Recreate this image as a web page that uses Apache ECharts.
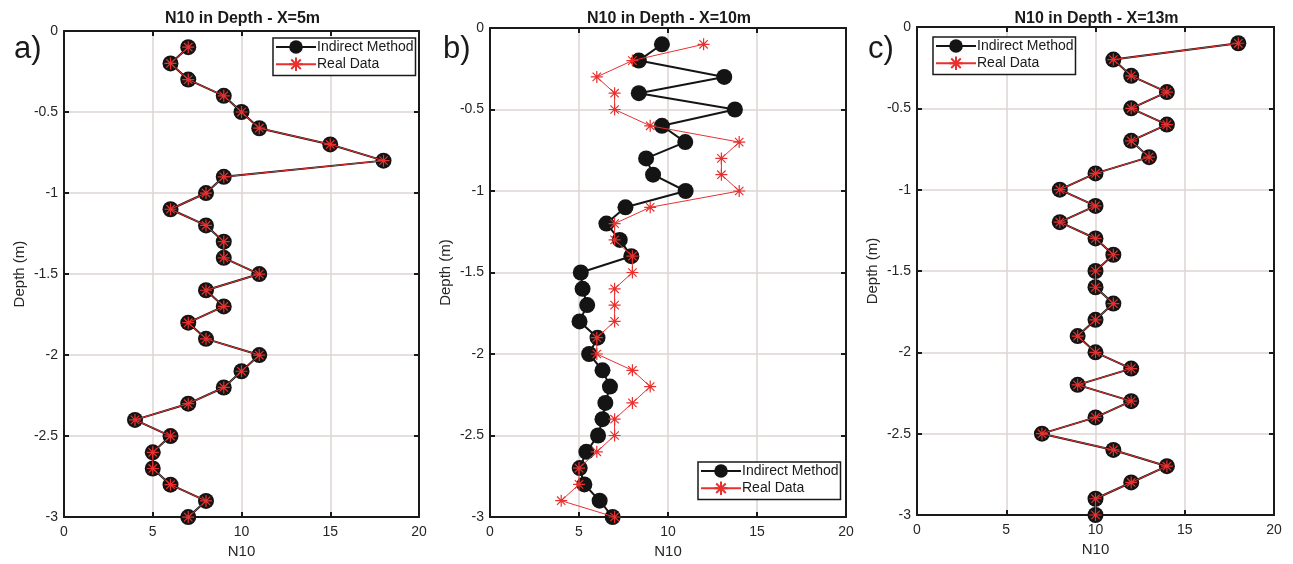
<!DOCTYPE html>
<html>
<head>
<meta charset="utf-8">
<script src="https://cdn.jsdelivr.net/npm/echarts@6/dist/echarts.min.js"></script>
<style>
  html, body { margin: 0; padding: 0; background: #fff; }
  #chart { width: 1293px; height: 564px; }
</style>
</head>
<body>
<div id="chart"></div>
<script>
// Depth of each reading (m)
const depths = [-0.1, -0.2, -0.3, -0.4, -0.5, -0.6, -0.7, -0.8, -0.9, -1.0,
                -1.1, -1.2, -1.3, -1.4, -1.5, -1.6, -1.7, -1.8, -1.9, -2.0,
                -2.1, -2.2, -2.3, -2.4, -2.5, -2.6, -2.7, -2.8, -2.9, -3.0];

// X = 5 m
const indirectX5 = [7, 6, 7, 9, 10, 11, 15, 18, 9, 8,
                    6, 8, 9, 9, 11, 8, 9, 7, 8, 11,
                    10, 9, 7, 4, 6, 5, 5, 6, 8, 7];
const realX5     = [7, 6, 7, 9, 10, 11, 15, 18, 9, 8,
                    6, 8, 9, 9, 11, 8, 9, 7, 8, 11,
                    10, 9, 7, 4, 6, 5, 5, 6, 8, 7];

// X = 10 m
const indirectX10 = [9.66, 8.36, 13.16, 8.36, 13.76, 9.66, 10.97, 8.77, 9.16, 10.99,
                     7.61, 6.54, 7.29, 7.94, 5.10, 5.20, 5.46, 5.03, 6.04, 5.57,
                     6.32, 6.74, 6.48, 6.32, 6.07, 5.41, 5.04, 5.30, 6.16, 6.89];
const realX10     = [12, 8, 6, 7, 7, 9, 14, 13, 13, 14,
                     9, 7, 7, 8, 8, 7, 7, 7, 6, 6,
                     8, 9, 8, 7, 7, 6, 5, 5, 4, 7];

// X = 13 m
const indirectX13 = [18, 11, 12, 14, 12, 14, 12, 13, 10, 8,
                     10, 8, 10, 11, 10, 10, 11, 10, 9, 10,
                     12, 9, 12, 10, 7, 11, 14, 12, 10, 10];
const realX13     = [18, 11, 12, 14, 12, 14, 12, 13, 10, 8,
                     10, 8, 10, 11, 10, 10, 11, 10, 9, 10,
                     12, 9, 12, 10, 7, 11, 14, 12, 10, 10];

const panelTitles = ['N10 in Depth - X=5m', 'N10 in Depth - X=10m', 'N10 in Depth - X=13m'];
const panelLetters = ['a)', 'b)', 'c)'];
const seriesNames = ['Indirect Method', 'Real Data'];
const xTicks = [0, 5, 10, 15, 20];
const yTicks = [0, -0.5, -1, -1.5, -2, -2.5, -3];

const panels = [
  { indirect: indirectX5,  real: realX5 },
  { indirect: indirectX10, real: realX10 },
  { indirect: indirectX13, real: realX13 }
];

// plot boxes, letter offsets and legend placement for each panel
const boxes = [
  { left: 64,  top: 31, width: 355, height: 487, letterLeft: 9,   legend: { left: 273, top: 38 } },
  { left: 490, top: 28, width: 356, height: 489, letterLeft: 438, legend: { left: 698, top: 462 } },
  { left: 917, top: 27, width: 357, height: 488, letterLeft: 863, legend: { left: 933, top: 37 } }
];

const FONT = 'Liberation Sans, Arial, Helvetica, sans-serif';
const RED = '#e8312f';
const INK = '#141414';
const ASTERISK = 'path://M0,-10L0,10M-10,0L10,0M-7,-7L7,7M-7,7L7,-7';

const pairs = (xs) => xs.map((v, i) => [v, depths[i]]);

const grids = [], xAxes = [], yAxes = [], series = [], titles = [], legends = [];

boxes.forEach((b, p) => {
  grids.push({ left: b.left, top: b.top, width: b.width, height: b.height, containLabel: false });

  const gridLine = { show: true, lineStyle: { color: '#ddd6d3', width: 1.5 } };
  const axisLine = { show: true, onZero: false, lineStyle: { color: '#1a1a1a', width: 2 } };
  const tick = { show: true, inside: true, length: 5, lineStyle: { color: '#1a1a1a', width: 2 } };
  const label = { fontFamily: FONT, fontSize: 14, color: '#262626' };

  // bottom (labelled) and top (ticks only) x axes
  xAxes.push({
    gridIndex: p, type: 'value', min: xTicks[0], max: xTicks[xTicks.length - 1], interval: 5,
    position: 'bottom', name: 'N10', nameLocation: 'middle', nameGap: 26,
    nameTextStyle: { fontFamily: FONT, fontSize: 15, color: '#262626' },
    axisLine, axisTick: tick, splitLine: gridLine,
    axisLabel: Object.assign({ margin: 8 }, label)
  });
  xAxes.push({
    gridIndex: p, type: 'value', min: 0, max: 20, interval: 5, position: 'top',
    axisLine, axisTick: tick, splitLine: { show: false }, axisLabel: { show: false }
  });
  // left (labelled) and right (ticks only) y axes
  yAxes.push({
    gridIndex: p, type: 'value', min: yTicks[yTicks.length - 1], max: yTicks[0], interval: 0.5,
    position: 'left', name: 'Depth (m)', nameLocation: 'middle', nameGap: 37,
    nameTextStyle: { fontFamily: FONT, fontSize: 15, color: '#262626' },
    axisLine, axisTick: tick, splitLine: gridLine,
    axisLabel: Object.assign({ margin: 6 }, label)
  });
  yAxes.push({
    gridIndex: p, type: 'value', min: -3, max: 0, interval: 0.5, position: 'right',
    axisLine, axisTick: tick, splitLine: { show: false }, axisLabel: { show: false }
  });

  series.push({
    name: seriesNames[0], type: 'line', xAxisIndex: 2 * p, yAxisIndex: 2 * p,
    data: pairs(panels[p].indirect), symbol: 'circle', symbolSize: 16,
    itemStyle: { color: INK }, lineStyle: { color: INK, width: 2 },
    z: 2, animation: false
  });
  series.push({
    name: seriesNames[1], type: 'line', xAxisIndex: 2 * p, yAxisIndex: 2 * p,
    data: pairs(panels[p].real), symbol: ASTERISK, symbolSize: 12,
    itemStyle: { color: 'none', borderColor: RED, borderWidth: 1.2 },
    lineStyle: { color: RED, width: 1 },
    z: 3, animation: false
  });

  titles.push({
    text: panelTitles[p], left: b.left + b.width / 2 - 4, top: 6, textAlign: 'center',
    textStyle: { fontFamily: FONT, fontSize: 16, fontWeight: 'bold', color: '#1a1a1a' }
  });
  titles.push({
    text: panelLetters[p], left: b.letterLeft, top: 29,
    textStyle: { fontFamily: FONT, fontSize: 31, fontWeight: 'normal', color: '#1a1a1a' }
  });

  legends.push({
    data: seriesNames, orient: 'vertical', left: b.legend.left, top: b.legend.top,
    itemWidth: 40, itemHeight: 17, itemGap: 1, padding: [2, 2, 2, 2],
    borderColor: '#1a1a1a', borderWidth: 1.5, backgroundColor: '#fff',
    textStyle: { fontFamily: FONT, fontSize: 14, color: '#1a1a1a', padding: [0, 0, 0, -4] },
    selectedMode: false
  });
});

const chart = echarts.init(document.getElementById('chart'), null, { renderer: 'canvas' });
chart.setOption({
  backgroundColor: '#fff',
  animation: false,
  title: titles,
  legend: legends,
  grid: grids,
  xAxis: xAxes,
  yAxis: yAxes,
  series: series
});
</script>
</body>
</html>
